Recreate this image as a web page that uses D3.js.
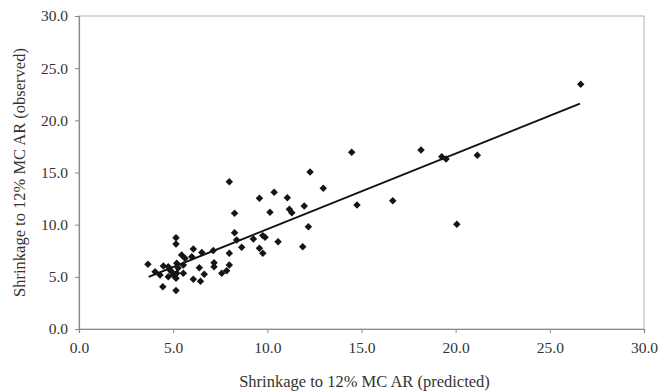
<!DOCTYPE html>
<html>
<head>
<meta charset="utf-8">
<script src="https://cdn.jsdelivr.net/npm/d3@7"></script>
<style>
  html, body { margin: 0; padding: 0; background: #fff; }
  svg { display: block; }
</style>
</head>
<body>
<svg id="chart" width="672" height="392"></svg>
<script>
// ---- data ----
const predicted = [3.66, 4.48, 4.74, 5.19, 5.45, 5.63, 5.99, 6.07, 6.52, 7.13, 7.98, 8.64, 5.54, 6.39,
  4.04, 4.30, 4.92, 5.01, 5.19, 4.74, 5.54, 5.15, 6.07, 6.45, 4.45, 5.15, 5.15, 5.15, 6.65, 7.17,
  7.17, 7.58, 7.84, 7.98, 7.98, 8.26, 8.26, 8.37, 9.26, 9.76, 9.88, 9.58, 9.76, 10.57, 9.58, 10.36,
  11.06, 10.14, 11.17, 11.30, 11.96, 12.18, 11.88, 12.27, 12.97, 14.48, 14.76, 16.66, 18.16, 19.26,
  19.49, 21.15, 20.06, 26.64, 4.83, 5.26];
const observed = [6.20, 6.04, 5.97, 6.30, 7.09, 6.78, 6.93, 7.67, 7.33, 7.53, 7.26, 7.83, 6.14, 5.88,
  5.49, 5.18, 5.49, 5.18, 5.34, 5.01, 5.34, 4.86, 4.77, 4.58, 4.06, 3.69, 8.15, 8.75, 5.24, 6.36,
  5.97, 5.34, 5.59, 6.14, 14.12, 11.09, 9.23, 8.53, 8.63, 8.95, 8.79, 7.74, 7.26, 8.37, 12.53, 13.11,
  12.59, 11.19, 11.48, 11.15, 11.79, 9.81, 7.89, 15.05, 13.49, 16.94, 11.89, 12.30, 17.16, 16.52,
  16.30, 16.65, 10.04, 23.46, 5.66, 5.85];
const trendX = [3.7, 26.6];
const trendY = [5.0, 21.6];
const xTicks = [0, 5, 10, 15, 20, 25, 30];
const yTicks = [0, 5, 10, 15, 20, 25, 30];
const xTitle = "Shrinkage to 12% MC AR (predicted)";
const yTitle = "Shrinkage to 12% MC AR (observed)";

// ---- layout ----
const W = 672, H = 392;
const m = { left: 79, right: 28, top: 16, bottom: 63 };
const svg = d3.select("#chart");
const x = d3.scaleLinear().domain([0, 30]).range([m.left, W - m.right]);
const y = d3.scaleLinear().domain([0, 30]).range([H - m.bottom, m.top]);
const font = "'Liberation Serif', 'Times New Roman', serif";
const axisColor = "#8a8a8a";

// plot border (top/right)
svg.append("rect")
  .attr("x", x(0)).attr("y", y(30))
  .attr("width", x(30) - x(0)).attr("height", y(0) - y(30))
  .attr("fill", "none").attr("stroke", "#b0b0b0").attr("stroke-width", 1);

const fmt = d3.format(".1f");

const xAxis = svg.append("g")
  .attr("transform", `translate(0,${y(0)})`)
  .call(d3.axisBottom(x).tickValues(xTicks).tickFormat(fmt).tickSize(4).tickPadding(9));
const yAxis = svg.append("g")
  .attr("transform", `translate(${x(0)},0)`)
  .call(d3.axisLeft(y).tickValues(yTicks).tickFormat(fmt).tickSize(4).tickPadding(7));

[xAxis, yAxis].forEach(g => {
  g.select(".domain").attr("stroke", axisColor).attr("stroke-width", 1.2);
  g.selectAll(".tick line").attr("stroke", axisColor);
  g.selectAll(".tick text")
    .attr("font-family", font).attr("font-size", 15.5).attr("fill", "#333");
});

// trend line
svg.append("line")
  .attr("x1", x(trendX[0])).attr("y1", y(trendY[0]))
  .attr("x2", x(trendX[1])).attr("y2", y(trendY[1]))
  .attr("stroke", "#111").attr("stroke-width", 2);

// points (diamonds)
const pts = predicted.map((v, i) => [v, observed[i]]);
const diamond = d3.symbol().type(d3.symbolSquare).size(28);
svg.append("g").selectAll("path")
  .data(pts).join("path")
  .attr("d", diamond)
  .attr("transform", d => `translate(${x(d[0])},${y(d[1])}) rotate(45)`)
  .attr("fill", "#151515");

// axis titles
svg.append("text")
  .attr("x", (x(0) + x(30)) / 2 + 3).attr("y", 387)
  .attr("text-anchor", "middle")
  .attr("font-family", font).attr("font-size", 16.5).attr("fill", "#333")
  .text(xTitle);
svg.append("text")
  .attr("transform", `translate(25,${(y(0) + y(30)) / 2}) rotate(-90)`)
  .attr("text-anchor", "middle")
  .attr("font-family", font).attr("font-size", 16.5).attr("fill", "#333")
  .text(yTitle);
</script>
</body>
</html>
